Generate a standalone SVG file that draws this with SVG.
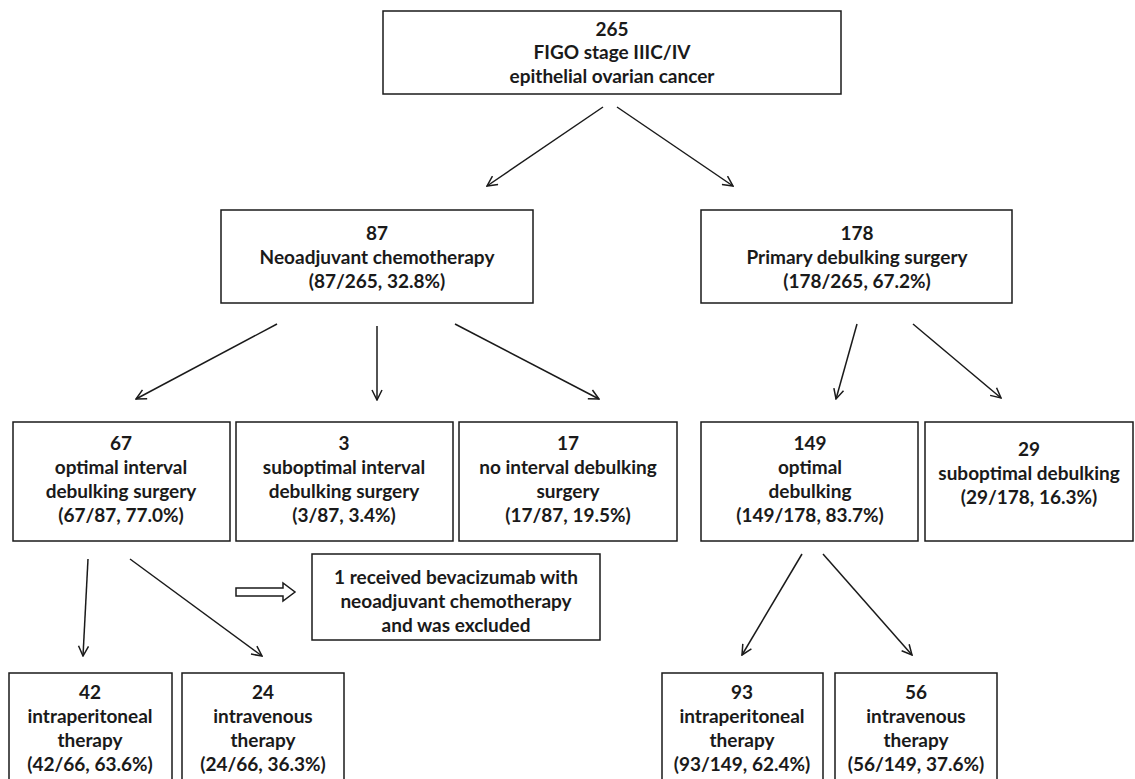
<svg xmlns="http://www.w3.org/2000/svg" width="1135" height="779" viewBox="0 0 1135 779">
<style>
.box{fill:#fff;stroke:#1a1a1a;stroke-width:1.5}
.t{font-family:Lato,"Open Sans","Liberation Sans",sans-serif;font-weight:bold;font-size:19px;fill:#1a1a1a;text-anchor:middle}
.c{fill:none;stroke:#1a1a1a;stroke-width:1.5}
</style>
<defs>
<marker id="ah" viewBox="0 0 12 12" refX="11" refY="6" markerWidth="12" markerHeight="12" markerUnits="userSpaceOnUse" orient="auto">
<path d="M1,1 L11,6 L1,11" fill="none" stroke="#1a1a1a" stroke-width="1.5"/>
</marker>
</defs>
<rect width="1135" height="779" fill="#fff"/>
<g id="connectors">
<line class="c" x1="603" y1="107" x2="487" y2="186" marker-end="url(#ah)"/>
<line class="c" x1="617" y1="107" x2="733" y2="186" marker-end="url(#ah)"/>
<line class="c" x1="277" y1="324" x2="136" y2="399" marker-end="url(#ah)"/>
<line class="c" x1="377" y1="326" x2="377" y2="400" marker-end="url(#ah)"/>
<line class="c" x1="455" y1="324" x2="599" y2="399" marker-end="url(#ah)"/>
<line class="c" x1="857" y1="324" x2="836" y2="399" marker-end="url(#ah)"/>
<line class="c" x1="913" y1="324" x2="1001" y2="398" marker-end="url(#ah)"/>
<line class="c" x1="88" y1="559" x2="83" y2="656" marker-end="url(#ah)"/>
<line class="c" x1="130" y1="559" x2="262" y2="656" marker-end="url(#ah)"/>
<line class="c" x1="802" y1="554" x2="742" y2="655" marker-end="url(#ah)"/>
<line class="c" x1="823" y1="554" x2="912" y2="655" marker-end="url(#ah)"/>
<polygon class="c" points="236,588 283,588 283,583 295,592 283,601 283,596 236,596"/>
</g>
<g id="n265">
<rect class="box" x="383" y="11" width="458" height="83"/>
<text class="t" x="612" y="36">265</text>
<text class="t" x="612" y="59">FIGO stage IIIC/IV</text>
<text class="t" x="612" y="83">epithelial ovarian cancer</text>
</g>
<g id="n87">
<rect class="box" x="221" y="210" width="312" height="93"/>
<text class="t" x="377" y="240">87</text>
<text class="t" x="377" y="264">Neoadjuvant chemotherapy</text>
<text class="t" x="377" y="288">(87/265, 32.8%)</text>
</g>
<g id="n178">
<rect class="box" x="701" y="210" width="311" height="93"/>
<text class="t" x="857" y="240">178</text>
<text class="t" x="857" y="264">Primary debulking surgery</text>
<text class="t" x="857" y="288">(178/265, 67.2%)</text>
</g>
<g id="n67">
<rect class="box" x="13" y="422" width="217" height="119"/>
<text class="t" x="121" y="450">67</text>
<text class="t" x="121" y="474">optimal interval</text>
<text class="t" x="121" y="498">debulking surgery</text>
<text class="t" x="121" y="522">(67/87, 77.0%)</text>
</g>
<g id="n3">
<rect class="box" x="236" y="422" width="217" height="119"/>
<text class="t" x="344" y="450">3</text>
<text class="t" x="344" y="474">suboptimal interval</text>
<text class="t" x="344" y="498">debulking surgery</text>
<text class="t" x="344" y="522">(3/87, 3.4%)</text>
</g>
<g id="n17">
<rect class="box" x="459" y="422" width="218" height="119"/>
<text class="t" x="568" y="450">17</text>
<text class="t" x="568" y="474">no interval debulking</text>
<text class="t" x="568" y="498">surgery</text>
<text class="t" x="568" y="522">(17/87, 19.5%)</text>
</g>
<g id="n149">
<rect class="box" x="701" y="422" width="217" height="119"/>
<text class="t" x="810" y="450">149</text>
<text class="t" x="810" y="474">optimal</text>
<text class="t" x="810" y="498">debulking</text>
<text class="t" x="810" y="522">(149/178, 83.7%)</text>
</g>
<g id="n29">
<rect class="box" x="925" y="422" width="208" height="119"/>
<text class="t" x="1029" y="456">29</text>
<text class="t" x="1029" y="480">suboptimal debulking</text>
<text class="t" x="1029" y="504">(29/178, 16.3%)</text>
</g>
<g id="nexcl">
<rect class="box" x="312" y="554" width="288" height="86"/>
<text class="t" x="456" y="584">1 received bevacizumab with</text>
<text class="t" x="456" y="608">neoadjuvant chemotherapy</text>
<text class="t" x="456" y="632">and was excluded</text>
</g>
<g id="n42">
<rect class="box" x="9" y="673" width="163" height="120"/>
<text class="t" x="90" y="699">42</text>
<text class="t" x="90" y="723">intraperitoneal</text>
<text class="t" x="90" y="747">therapy</text>
<text class="t" x="90" y="771">(42/66, 63.6%)</text>
</g>
<g id="n24">
<rect class="box" x="182" y="673" width="162" height="120"/>
<text class="t" x="263" y="699">24</text>
<text class="t" x="263" y="723">intravenous</text>
<text class="t" x="263" y="747">therapy</text>
<text class="t" x="263" y="771">(24/66, 36.3%)</text>
</g>
<g id="n93">
<rect class="box" x="662" y="673" width="161" height="120"/>
<text class="t" x="742" y="699">93</text>
<text class="t" x="742" y="723">intraperitoneal</text>
<text class="t" x="742" y="747">therapy</text>
<text class="t" x="742" y="771">(93/149, 62.4%)</text>
</g>
<g id="n56">
<rect class="box" x="835" y="673" width="162" height="120"/>
<text class="t" x="916" y="699">56</text>
<text class="t" x="916" y="723">intravenous</text>
<text class="t" x="916" y="747">therapy</text>
<text class="t" x="916" y="771">(56/149, 37.6%)</text>
</g>
</svg>
